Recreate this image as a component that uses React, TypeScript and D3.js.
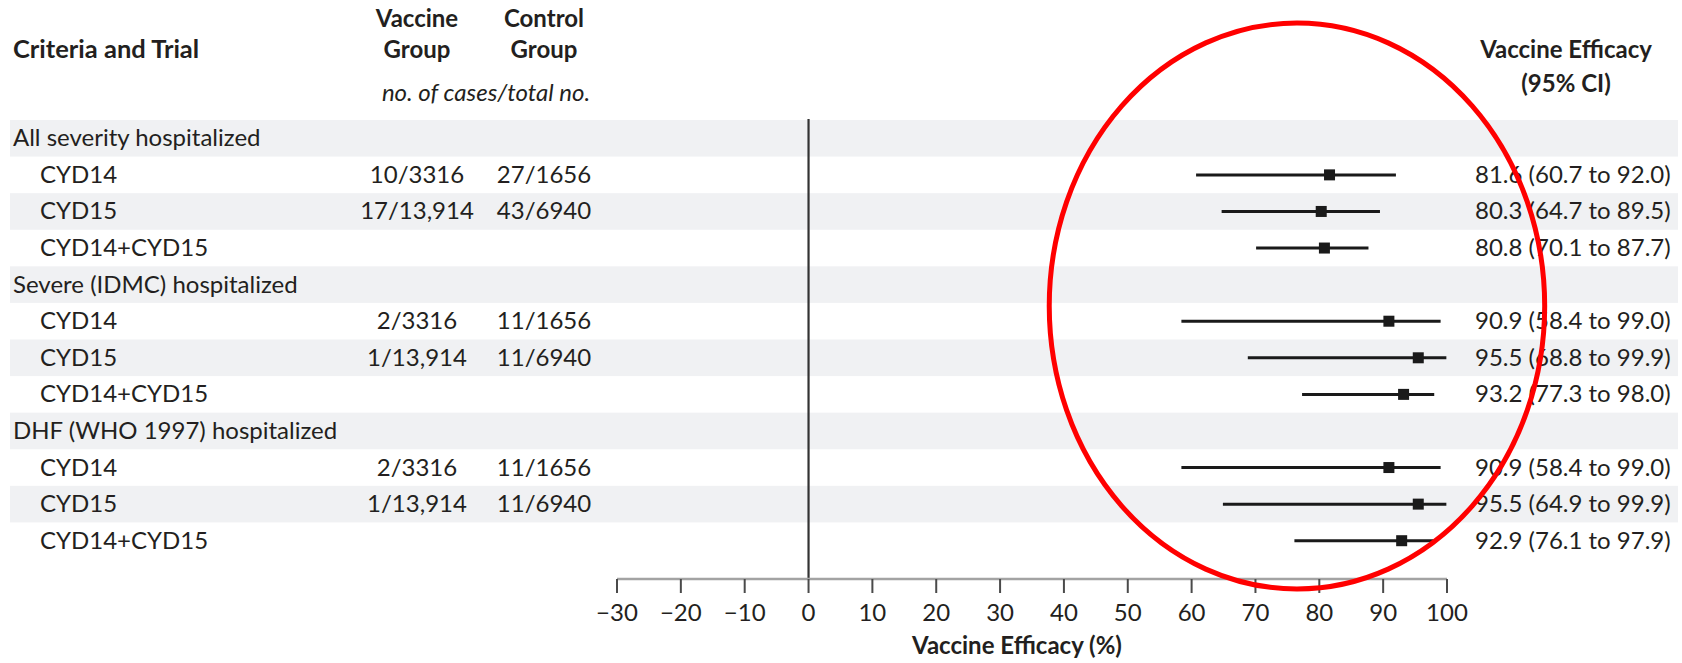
import React from 'react';
import * as d3 from 'd3';

const rowLabels = [
  'All severity hospitalized', 'CYD14', 'CYD15', 'CYD14+CYD15',
  'Severe (IDMC) hospitalized', 'CYD14', 'CYD15', 'CYD14+CYD15',
  'DHF (WHO 1997) hospitalized', 'CYD14', 'CYD15', 'CYD14+CYD15',
];
const rowIsGroup = [true, false, false, false, true, false, false, false, true, false, false, false];
const vaccineCounts = ['', '10/3316', '17/13,914', '', '', '2/3316', '1/13,914', '', '', '2/3316', '1/13,914', ''];
const controlCounts = ['', '27/1656', '43/6940', '', '', '11/1656', '11/6940', '', '', '11/1656', '11/6940', ''];
const efficacy = [null, 81.6, 80.3, 80.8, null, 90.9, 95.5, 93.2, null, 90.9, 95.5, 92.9];
const ciLow = [null, 60.7, 64.7, 70.1, null, 58.4, 68.8, 77.3, null, 58.4, 64.9, 76.1];
const ciHigh = [null, 92.0, 89.5, 87.7, null, 99.0, 99.9, 98.0, null, 99.0, 99.9, 97.9];
const xTicks = [-30, -20, -10, 0, 10, 20, 30, 40, 50, 60, 70, 80, 90, 100];

const W = 1682;
const H = 663;
const FONT = 'Lato, "Open Sans", sans-serif';
const INK = '#231f20';

export default function App() {
  const x = d3.scaleLinear().domain([-30, 100]).range([617, 1447]);
  const y = d3.scaleBand<number>()
    .domain(rowLabels.map((_, i) => i))
    .range([120, 559]);
  const bw = y.bandwidth();
  const axisY = 579;
  const fmt = d3.format('.1f');
  const tickFmt = (v: number) => (v < 0 ? '\u2212' + Math.abs(v) : String(v));

  // red annotation ellipse, in efficacy units horizontally
  const ringCx = x(76.5);
  const ringRx = x(76.5 + 38.8) - x(76.5);

  return (
    <div style={{ position: 'absolute', left: 0, top: 0 }}>
      <svg width={W} height={H} style={{ display: 'block', background: '#fff' }} fontFamily={FONT}>
        {/* row bands */}
        {rowLabels.map((_, i) =>
          i % 2 === 0 ? (
            <rect key={'b' + i} x={10} y={y(i)} width={1668} height={bw} fill="#f0f1f3" />
          ) : null
        )}

        {/* headers */}
        <g fill={INK} fontWeight={700} fontSize={24}>
          <text x={13} y={58} fontSize={25.5}>Criteria and Trial</text>
          <text x={417} y={27} textAnchor="middle">Vaccine</text>
          <text x={417} y={58} textAnchor="middle">Group</text>
          <text x={544} y={27} textAnchor="middle">Control</text>
          <text x={544} y={58} textAnchor="middle">Group</text>
          <text x={1566} y={58} textAnchor="middle">Vaccine Efficacy</text>
          <text x={1566} y={92} textAnchor="middle">(95% CI)</text>
        </g>
        <text x={486} y={101} textAnchor="middle" fontStyle="italic" fontSize={24} fill={INK}>
          no. of cases/total no.
        </text>

        {/* row texts */}
        <g fill={INK} fontSize={24}>
          {rowLabels.map((lab, i) => {
            const cy = (y(i) as number) + bw / 2 + 8;
            return (
              <g key={'t' + i}>
                <text x={rowIsGroup[i] ? 13 : 40} y={cy}>{lab}</text>
                {vaccineCounts[i] && <text x={417} y={cy} textAnchor="middle">{vaccineCounts[i]}</text>}
                {controlCounts[i] && <text x={544} y={cy} textAnchor="middle">{controlCounts[i]}</text>}
                {efficacy[i] != null && (
                  <text x={1475} y={cy}>
                    {`${fmt(efficacy[i] as number)} (${fmt(ciLow[i] as number)} to ${fmt(ciHigh[i] as number)})`}
                  </text>
                )}
              </g>
            );
          })}
        </g>

        {/* zero line */}
        <line x1={x(0)} x2={x(0)} y1={119} y2={axisY} stroke="#333" strokeWidth={2.2} />

        {/* CIs and point estimates */}
        {efficacy.map((e, i) => {
          if (e == null) return null;
          const cy = (y(i) as number) + bw / 2;
          return (
            <g key={'ci' + i}>
              <line x1={x(ciLow[i] as number)} x2={x(ciHigh[i] as number)} y1={cy} y2={cy}
                stroke="#1a1a1a" strokeWidth={3} />
              <rect x={x(e) - 5.5} y={cy - 5.5} width={11} height={11} fill="#1a1a1a" />
            </g>
          );
        })}

        {/* x axis */}
        <line x1={x(-30)} x2={x(100)} y1={axisY} y2={axisY} stroke="#a3a3a3" strokeWidth={2.5} />
        {xTicks.map((t) => (
          <g key={'k' + t}>
            <line x1={x(t)} x2={x(t)} y1={axisY} y2={axisY + 14} stroke="#4a4a4a" strokeWidth={2} />
            <text x={x(t)} y={621} textAnchor="middle" fontSize={24} fill={INK}>{tickFmt(t)}</text>
          </g>
        ))}
        <text x={1017} y={654} textAnchor="middle" fontSize={24} fontWeight={700} fill={INK}>
          Vaccine Efficacy (%)
        </text>

        {/* red annotation ring */}
        <ellipse cx={ringCx} cy={306} rx={ringRx} ry={283} fill="none" stroke="#ff0000" strokeWidth={5} />
      </svg>
    </div>
  );
}
